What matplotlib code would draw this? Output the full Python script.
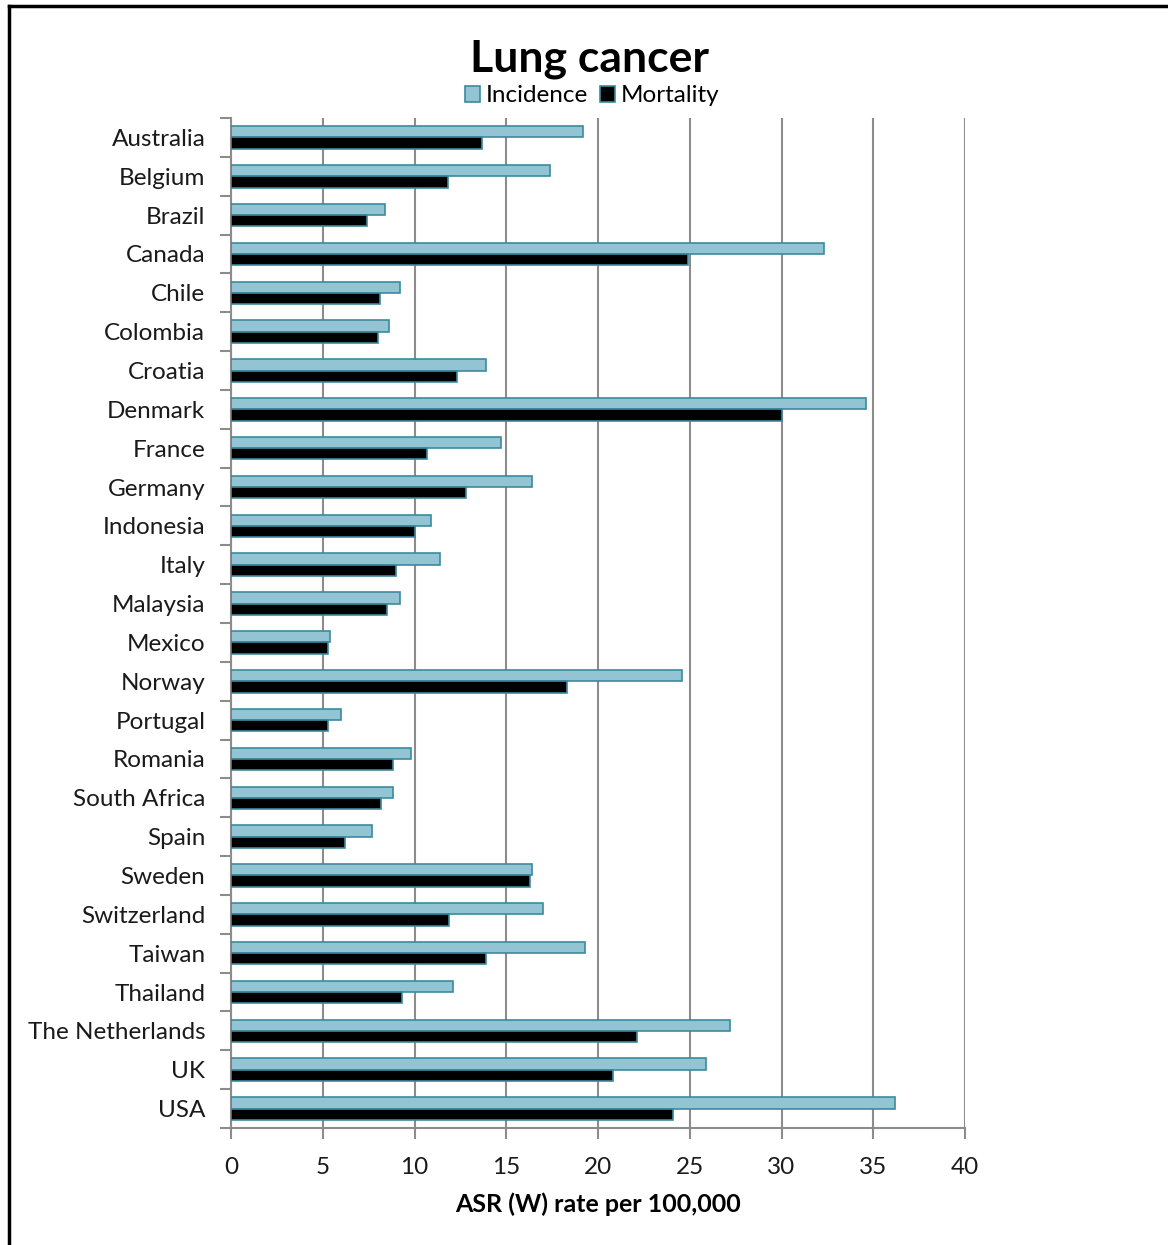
import numpy as np
import matplotlib
matplotlib.use('Agg')
import matplotlib.pyplot as plt
from matplotlib.ticker import MultipleLocator, FixedLocator
from matplotlib.lines import Line2D
from matplotlib.patches import Patch

plt.rcParams['font.family'] = ['Lato', 'DejaVu Sans']

countries = ['Australia', 'Belgium', 'Brazil', 'Canada', 'Chile', 'Colombia', 'Croatia',
             'Denmark', 'France', 'Germany', 'Indonesia', 'Italy', 'Malaysia', 'Mexico',
             'Norway', 'Portugal', 'Romania', 'South Africa', 'Spain', 'Sweden',
             'Switzerland', 'Taiwan', 'Thailand', 'The Netherlands', 'UK', 'USA']
incidence = [19.2, 17.4, 8.4, 32.3, 9.2, 8.6, 13.9, 34.6, 14.7, 16.4, 10.9, 11.4, 9.2, 5.4,
             24.6, 6.0, 9.8, 8.8, 7.7, 16.4, 17.0, 19.3, 12.1, 27.2, 25.9, 36.2]
mortality = [13.7, 11.8, 7.4, 24.9, 8.1, 8.0, 12.3, 30.0, 10.7, 12.8, 10.0, 9.0, 8.5, 5.3,
             18.3, 5.3, 8.8, 8.2, 6.2, 16.3, 11.9, 13.9, 9.3, 22.1, 20.8, 24.1]

inc_color = '#92C4D4'
edge_color = '#3C8A9E'
grid_color = '#8C8C8C'
text_color = '#1a1a1a'

fig = plt.figure(figsize=(11.68, 12.45), dpi=100)
ax = fig.add_axes([0.1978, 0.094, 0.6284, 0.8112])

y = np.arange(len(countries))
h = 0.29
ax.barh(y - h / 2, incidence, height=h, color=inc_color, edgecolor=edge_color,
        linewidth=1.2, label='Incidence', zorder=3)
ax.barh(y + h / 2, mortality, height=h, color='black', edgecolor=edge_color,
        linewidth=1.2, label='Mortality', zorder=3)

ax.set_xlim(0, 40)
ax.set_ylim(len(countries) - 0.5, -0.5)
ax.xaxis.set_major_locator(MultipleLocator(5))
ax.set_yticks(y)
ax.set_yticklabels(countries)
ax.yaxis.set_minor_locator(FixedLocator(np.arange(-0.5, len(countries), 1)))
ax.tick_params(axis='y', which='major', length=0, pad=18.5, labelsize=17.5, labelcolor=text_color)
ax.tick_params(axis='y', which='minor', length=8, width=1.5, color=grid_color)
ax.tick_params(axis='x', length=8, width=1.5, color=grid_color, labelsize=17.5,
               labelcolor=text_color, pad=13)
ax.grid(axis='x', color=grid_color, linewidth=1.5, zorder=0)
for side in ['top', 'right']:
    ax.spines[side].set_visible(False)
for side in ['left', 'bottom']:
    ax.spines[side].set_color(grid_color)
    ax.spines[side].set_linewidth(1.5)

ax.set_xlabel('ASR (W) rate per 100,000', fontsize=18, fontweight='bold', labelpad=10)
fig.text(0.505, 0.953, 'Lung cancer', ha='center', va='center', fontsize=32, fontweight='bold')

handles = [Patch(facecolor=inc_color, edgecolor=edge_color, linewidth=1.2),
           Patch(facecolor='black', edgecolor=edge_color, linewidth=1.2)]
fig.legend(handles, ['Incidence', 'Mortality'], loc='center', bbox_to_anchor=(0.507, 0.923),
           ncol=2, frameon=False, fontsize=17.5, handlelength=0.6, handleheight=0.6,
           handletextpad=0.25, columnspacing=0.5, borderaxespad=0)

# outer frame (left and top edges visible)
fig.add_artist(Line2D([0.0075, 0.0075], [0, 0.9955], color='black', linewidth=2.5,
                      transform=fig.transFigure))
fig.add_artist(Line2D([0.0075, 1.0], [0.9955, 0.9955], color='black', linewidth=2.5,
                      transform=fig.transFigure))

fig.savefig('out.png', dpi=100)
